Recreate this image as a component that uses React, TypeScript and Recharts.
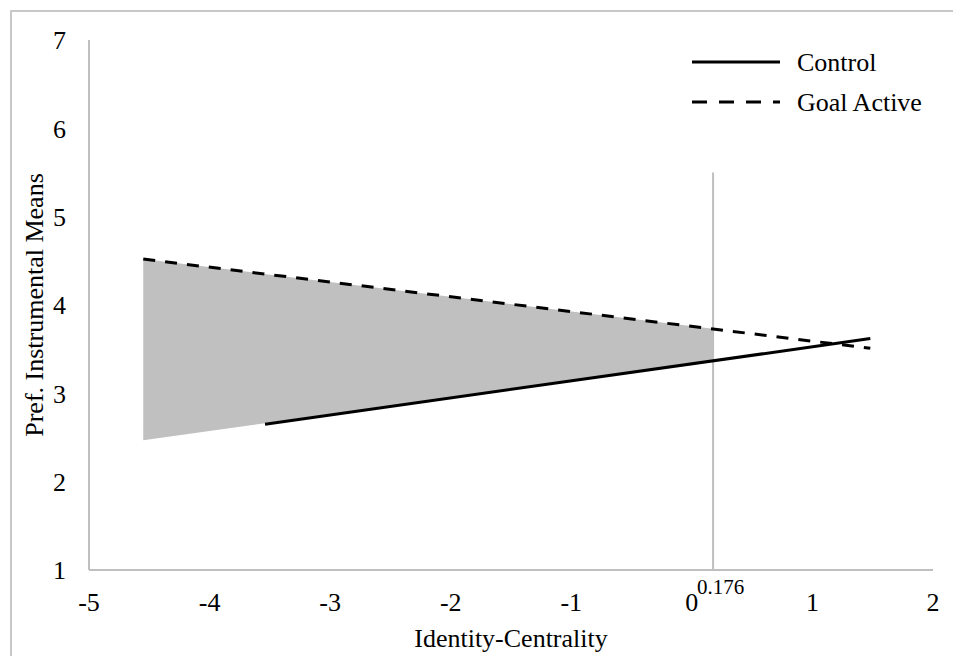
import React from "react";
import {
  ComposedChart,
  Line,
  Area,
  XAxis,
  YAxis,
  ReferenceLine,
  Legend,
  Label,
} from "recharts";

// Simple slopes of the two conditions
const goalActive = [
  { x: -4.55, y: 4.52 },
  { x: 1.48, y: 3.51 },
];
const control = [
  { x: -3.54, y: 2.65 },
  { x: 1.48, y: 3.62 },
];
// Region of significance (between the slopes, left of the J-N point)
const region = [
  { x: -4.55, band: [2.47, 4.52] },
  { x: 0.176, band: [3.37, 3.73] },
];
const jnPoint = 0.176;
const jnTop = 5.5;
const xTicks = [-5, -4, -3, -2, -1, 0, 1, 2, 0.176];
const yTicks = [1, 2, 3, 4, 5, 6, 7];

const FONT = '"Liberation Serif", "Times New Roman", serif';
const AXIS_GRAY = "#bfbfbf";

const XTick = (props: any) => {
  const { x, y, payload } = props;
  if (payload.value === jnPoint) {
    return (
      <text x={x - 16} y={y + 1} textAnchor="start" fontSize={21} fill="#000" fontFamily={FONT}>
        {String(payload.value)}
      </text>
    );
  }
  return (
    <text x={x} y={y} dy="0.71em" textAnchor="middle" fontSize={26} fill="#000" fontFamily={FONT}>
      {String(payload.value)}
    </text>
  );
};

const LegendBox = () => (
  <svg width={260} height={70} style={{ display: "block" }}>
    <line x1={0} y1={14} x2={88} y2={14} stroke="#000" strokeWidth={3} />
    <text x={105} y={14} dominantBaseline="central" fontSize={26} fontFamily={FONT} fill="#000">
      Control
    </text>
    <line x1={0} y1={54} x2={88} y2={54} stroke="#000" strokeWidth={3} strokeDasharray="15 12" />
    <text x={105} y={54} dominantBaseline="central" fontSize={26} fontFamily={FONT} fill="#000">
      Goal Active
    </text>
  </svg>
);

const YTitle = (props: any) => {
  const vb = props.viewBox || { x: 0, y: 0, width: 0, height: 0 };
  const cx = vb.x + 26;
  const cy = vb.y + vb.height / 2;
  return (
    <text
      x={cx}
      y={cy}
      transform={`rotate(-90, ${cx}, ${cy})`}
      textAnchor="middle"
      dominantBaseline="central"
      fontSize={26}
      fontFamily={FONT}
      fill="#000"
    >
      Pref. Instrumental Means
    </text>
  );
};

export default function App() {
  return (
    <div style={{ position: "relative", width: 953, height: 648, fontFamily: FONT }}>
      <div
        style={{
          position: "absolute",
          left: 2,
          top: 2,
          width: 951,
          height: 646,
          borderTop: "2px solid #c8c8c8",
          borderLeft: "2px solid #c8c8c8",
          boxSizing: "border-box",
        }}
      />
      <ComposedChart
        width={953}
        height={648}
        margin={{ top: 32, right: 28, bottom: 0, left: 0 }}
        style={{ position: "absolute", left: 0, top: 0 }}
      >
        <XAxis
          type="number"
          dataKey="x"
          domain={[-5, 2]}
          ticks={xTicks}
          interval={0}
          allowDataOverflow
          height={86}
          axisLine={{ stroke: AXIS_GRAY, strokeWidth: 2 }}
          tickLine={false}
          tickSize={0}
          tickMargin={23}
          tick={<XTick />}
        >
          <Label
            value="Identity-Centrality"
            position="insideBottom"
            offset={9}
            fontSize={26}
            fontFamily={FONT}
            fill="#000"
          />
        </XAxis>
        <YAxis
          type="number"
          domain={[1, 7]}
          ticks={yTicks}
          interval={0}
          width={81}
          axisLine={{ stroke: AXIS_GRAY, strokeWidth: 2 }}
          tickLine={false}
          tickSize={0}
          tickMargin={23}
          tick={{ fontSize: 26, fill: "#000", fontFamily: FONT }}
        >
          <Label content={<YTitle />} />
        </YAxis>
        <Area
          data={region}
          dataKey="band"
          type="linear"
          fill="#c0c0c0"
          fillOpacity={1}
          stroke="none"
          isAnimationActive={false}
          legendType="none"
        />
        <ReferenceLine
          segment={[
            { x: jnPoint, y: 1 },
            { x: jnPoint, y: jnTop },
          ]}
          stroke={AXIS_GRAY}
          strokeWidth={2}
        />
        <Line
          data={control}
          dataKey="y"
          name="Control"
          type="linear"
          stroke="#000"
          strokeWidth={3}
          dot={false}
          activeDot={false}
          isAnimationActive={false}
        />
        <Line
          data={goalActive}
          dataKey="y"
          name="Goal Active"
          type="linear"
          stroke="#000"
          strokeWidth={3}
          strokeDasharray="12 10"
          dot={false}
          activeDot={false}
          isAnimationActive={false}
        />
        <Legend
          layout="horizontal"
          verticalAlign="middle"
          align="center"
          content={<LegendBox />}
          wrapperStyle={{ position: "absolute", left: 684, top: 40, width: 260, height: 70 }}
        />
      </ComposedChart>
    </div>
  );
}
